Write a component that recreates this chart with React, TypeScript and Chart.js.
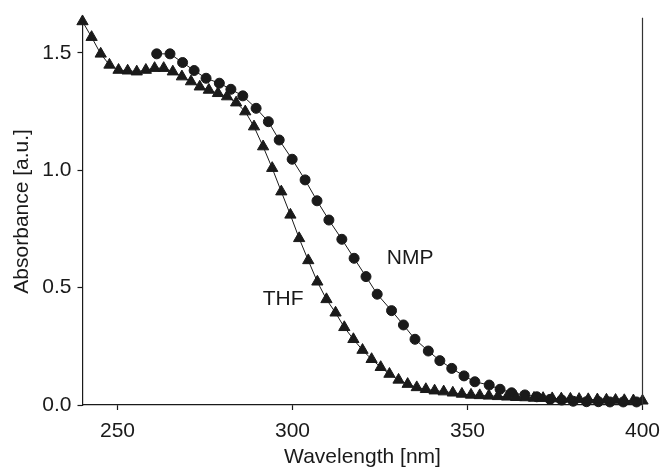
import React, { useEffect, useRef } from "react";
import { Chart, registerables } from "chart.js";

Chart.register(...registerables);

// THF series (triangles)
const thfWavelength = [
  240.0, 242.6, 245.2, 247.7, 250.3, 252.9, 255.5, 258.1, 260.6, 263.2,
  265.8, 268.4, 271.0, 273.5, 276.1, 278.7, 281.3, 283.9, 286.5, 289.0,
  291.6, 294.2, 296.8, 299.4, 301.9, 304.5, 307.1, 309.7, 312.3, 314.8,
  317.4, 320.0, 322.6, 325.2, 327.7, 330.3, 332.9, 335.5, 338.1, 340.6,
  343.2, 345.8, 348.4, 351.0, 353.5, 356.1, 358.7, 361.3, 363.9, 366.5,
  369.0, 371.6, 374.2, 376.8, 379.4, 381.9, 384.5, 387.1, 389.7, 392.3,
  394.8, 397.4, 400.0,
];
const thfAbsorbance = [
  1.634, 1.567, 1.496, 1.449, 1.427, 1.424, 1.42, 1.427, 1.435, 1.435,
  1.42, 1.399, 1.378, 1.356, 1.342, 1.328, 1.314, 1.288, 1.25, 1.186,
  1.101, 1.009, 0.909, 0.81, 0.71, 0.616, 0.525, 0.45, 0.393, 0.331,
  0.28, 0.234, 0.195, 0.161, 0.132, 0.107, 0.089, 0.075, 0.067, 0.061,
  0.057, 0.052, 0.047, 0.043, 0.041, 0.039, 0.037, 0.035, 0.033, 0.032,
  0.03, 0.029, 0.028, 0.027, 0.026, 0.025, 0.024, 0.023, 0.022, 0.021,
  0.02, 0.019, 0.018,
];

// NMP series (circles)
const nmpWavelength = [
  261.2, 265.0, 268.6, 271.9, 275.3, 279.1, 282.4, 285.8, 289.6, 293.1,
  296.2, 299.9, 303.6, 307.0, 310.4, 314.1, 317.6, 321.0, 324.2, 328.3,
  331.7, 335.0, 338.8, 342.1, 345.5, 349.0, 352.1, 356.2, 359.3, 362.6,
  366.4, 369.8, 373.6, 376.9, 380.2, 384.0, 387.4, 390.7, 394.5, 398.3,
];
const nmpAbsorbance = [
  1.496, 1.496, 1.459, 1.425, 1.392, 1.371, 1.345, 1.317, 1.264, 1.207,
  1.129, 1.047, 0.959, 0.87, 0.788, 0.706, 0.625, 0.547, 0.472, 0.402,
  0.341, 0.28, 0.23, 0.189, 0.156, 0.124, 0.099, 0.085, 0.067, 0.052,
  0.043, 0.035, 0.024, 0.021, 0.016, 0.014, 0.014, 0.013, 0.013, 0.013,
];

const xTickValues = [250, 300, 350, 400];
const yTickValues = [0, 0.5, 1.0, 1.5];
const seriesNames = ["THF", "NMP"];
const xTitle = "Wavelength [nm]";
const yTitle = "Absorbance [a.u.]";

const FONT = "'Liberation Sans', Arial, Helvetica, sans-serif";
const INK = "#1a1a1a";
const FS = 21;

export default function App() {
  const ref = useRef<HTMLCanvasElement | null>(null);

  useEffect(() => {
    if (!ref.current) return;

    const labelPlugin = {
      id: "inlineLabels",
      afterDatasetsDraw(chart: any) {
        const { ctx, scales, chartArea } = chart;
        ctx.save();
        // right spine
        ctx.strokeStyle = "#333";
        ctx.lineWidth = 1.2;
        ctx.beginPath();
        ctx.moveTo(chartArea.right, chartArea.top);
        ctx.lineTo(chartArea.right, chartArea.bottom);
        ctx.stroke();
        // series labels
        ctx.fillStyle = INK;
        ctx.font = `${FS}px ${FONT}`;
        ctx.textAlign = "center";
        ctx.textBaseline = "middle";
        const anchors = [
          { name: seriesNames[0], x: 297.3, y: 0.452 },
          { name: seriesNames[1], x: 333.6, y: 0.626 },
        ];
        for (const a of anchors) {
          ctx.fillText(a.name, scales.x.getPixelForValue(a.x), scales.y.getPixelForValue(a.y));
        }
        ctx.restore();
      },
    };

    const chart = new Chart(ref.current, {
      type: "scatter",
      data: {
        datasets: [
          {
            label: seriesNames[0],
            data: thfWavelength.map((x, i) => ({ x, y: thfAbsorbance[i] })),
            showLine: true,
            borderColor: INK,
            borderWidth: 1,
            backgroundColor: INK,
            pointStyle: "triangle",
            pointRadius: 6.5,
            pointBorderWidth: 1,
            pointBackgroundColor: INK,
            pointBorderColor: INK,
            tension: 0,
            clip: false as any,
          },
          {
            label: seriesNames[1],
            data: nmpWavelength.map((x, i) => ({ x, y: nmpAbsorbance[i] })),
            showLine: true,
            borderColor: INK,
            borderWidth: 1,
            backgroundColor: INK,
            pointStyle: "circle",
            pointRadius: 5,
            pointBorderWidth: 1,
            pointBackgroundColor: INK,
            pointBorderColor: INK,
            tension: 0,
            clip: false as any,
          },
        ],
      },
      options: {
        animation: false,
        responsive: false,
        maintainAspectRatio: false,
        layout: { padding: { left: 0, right: 17.5, top: 17.7, bottom: 0 } },
        plugins: {
          legend: { display: false },
          tooltip: { enabled: false },
        },
        scales: {
          x: {
            type: "linear",
            min: 240,
            max: 400,
            afterBuildTicks: (scale: any) => {
              scale.ticks = xTickValues.map((v) => ({ value: v }));
            },
            afterFit: (scale: any) => {
              scale.height = 67;
              scale.paddingLeft = 0;
              scale.paddingRight = 0;
            },
            grid: {
              display: true,
              drawOnChartArea: false,
              drawTicks: true,
              tickLength: 5,
              tickWidth: 1.2,
              tickColor: INK,
            },
            border: { display: true, color: INK, width: 1.2 },
            ticks: {
              color: INK,
              font: { family: FONT, size: FS },
              padding: 9,
              maxRotation: 0,
              callback: (v: any) => String(v),
            },
            title: {
              display: true,
              text: xTitle,
              color: INK,
              font: { family: FONT, size: FS },
              padding: { top: 0, bottom: 2 },
            },
          },
          y: {
            type: "linear",
            min: 0,
            max: 1.65,
            afterBuildTicks: (scale: any) => {
              scale.ticks = yTickValues.map((v) => ({ value: v }));
            },
            afterFit: (scale: any) => {
              scale.width = 82.5;
              scale.paddingTop = 0;
              scale.paddingBottom = 0;
            },
            grid: {
              display: true,
              drawOnChartArea: false,
              drawTicks: true,
              tickLength: 5,
              tickWidth: 1.2,
              tickColor: INK,
            },
            border: { display: true, color: INK, width: 1.2 },
            ticks: {
              color: INK,
              font: { family: FONT, size: FS },
              padding: 6,
              callback: (v: any) => Number(v).toFixed(1),
            },
            title: {
              display: true,
              text: yTitle,
              color: INK,
              font: { family: FONT, size: FS },
              padding: { top: 10, bottom: 0 },
            },
          },
        },
      },
      plugins: [labelPlugin],
    });

    return () => chart.destroy();
  }, []);

  return (
    <div style={{ position: "fixed", left: 0, top: 0, width: 660, height: 472, background: "#fff" }}>
      <canvas ref={ref} width={660} height={472} style={{ width: 660, height: 472, display: "block" }} />
    </div>
  );
}
